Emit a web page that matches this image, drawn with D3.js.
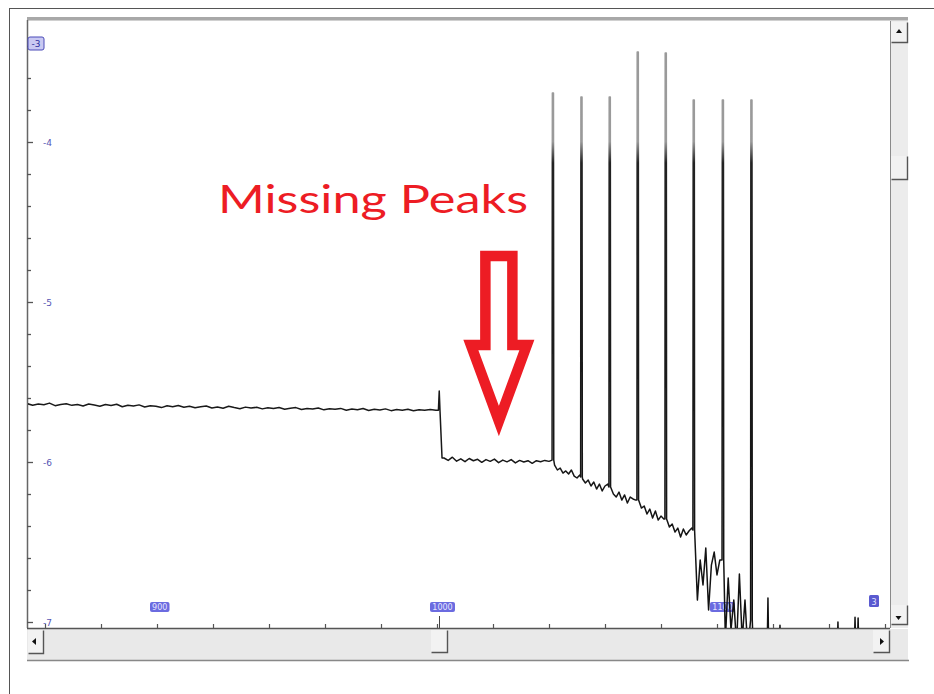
<!DOCTYPE html>
<html><head><meta charset="utf-8">
<script src="https://cdn.jsdelivr.net/npm/d3@7"></script>
<style>body{margin:0;background:#fff}svg{display:block}</style>
</head><body><div id="chart"></div>
<script>
// ---------- data ----------
const xDomain = [853.57, 1161.79];
const yDomain = [-7.0375, -3.2375];
const xTickLabels = ["900", "1000", "1100"];
const xTickLabelValues = [900, 1000, 1100];
const yTickLabels = ["-4", "-5", "-6", "-7"];
const yTickLabelValues = [-4, -5, -6, -7];

// baseline before the step (regularly sampled)
const baseStart = 853.6, baseStep = 2;
const baseLog = [-5.635,-5.645,-5.638,-5.642,-5.632,-5.648,-5.640,-5.636,-5.646,-5.641,
 -5.650,-5.638,-5.644,-5.652,-5.641,-5.647,-5.639,-5.655,-5.645,-5.650,
 -5.643,-5.656,-5.648,-5.652,-5.660,-5.649,-5.655,-5.647,-5.658,-5.652,
 -5.661,-5.655,-5.650,-5.662,-5.656,-5.664,-5.652,-5.660,-5.667,-5.657,
 -5.663,-5.658,-5.668,-5.661,-5.666,-5.659,-5.670,-5.664,-5.660,-5.672,
 -5.665,-5.669,-5.662,-5.674,-5.667,-5.671,-5.665,-5.676,-5.669,-5.673,
 -5.666,-5.678,-5.671,-5.675,-5.668,-5.679,-5.672,-5.676,-5.670,-5.680,
 -5.673,-5.677,-5.672,-5.676];
// the step near 1000
const stepPts = [[1000.5,-5.676],[1000.8,-5.556],[1001.1,-5.69],[1001.8,-5.975]];
// flat region with missing peaks
const midStart = 1002.5, midStep = 1.5;
const midLog = [-5.975,-5.990,-5.970,-5.995,-5.980,-5.998,-5.978,-5.992,-5.983,-6.002,
 -5.985,-5.996,-5.982,-6.004,-5.988,-5.999,-5.985,-6.006,-5.990,-6.000,
 -5.992,-6.008,-5.992,-5.998,-5.990,-5.996];
// descending noisy region (one sample per unit)
const highStart = 1042;
const highLog = [-6.019,-6.050,-6.038,-6.069,-6.056,-6.075,-6.050,-6.088,-6.100,-6.081,
 -6.106,-6.131,-6.113,-6.150,-6.125,-6.169,-6.138,-6.181,-6.150,-6.138,
 -6.175,-6.200,-6.219,-6.188,-6.238,-6.206,-6.256,-6.219,-6.231,-6.238,
 -6.263,-6.288,-6.275,-6.325,-6.294,-6.350,-6.306,-6.363,-6.338,-6.356,
 -6.375,-6.406,-6.388,-6.438,-6.413,-6.469,-6.419,-6.456,-6.431,-6.413,
 -6.581,-6.863,-6.613,-6.769,-6.538,-6.925,-6.644,-6.563,-6.706,-6.613,
 -6.650,-7.113,-6.725,-7.050,-6.863,-7.144,-6.700,-7.113,-6.863,-7.175];
// tail after the last peak
const tailPts = [[1113,-7.2],[1115,-7.24],[1117.9,-7.2],[1118.2,-6.85],[1118.5,-7.2],
 [1122.2,-7.2],[1122.5,-7.02],[1122.8,-7.2],[1130,-7.24],[1142.9,-7.2],[1143.2,-7.0],
 [1143.5,-7.2],[1149,-7.2],[1149.3,-6.97],[1149.6,-7.2],[1150.1,-7.2],[1150.4,-6.975],
 [1150.7,-7.2],[1161.8,-7.2]];
// peaks
const peakMz   = [1041.4, 1051.6, 1061.7, 1071.7, 1081.7, 1091.7, 1102.1, 1112.3];
const peakTop  = [-3.694, -3.719, -3.719, -3.438, -3.444, -3.738, -3.738, -3.738];
const peakBase = [-5.988, -6.094, -6.156, -6.238, -6.356, -6.425, -6.613, -6.988];

// ---------- chart ----------
const W = 934, H = 694;
const P = {left: 27, top: 20, right: 890, bottom: 628};
const svg = d3.select('#chart').append('svg').attr('width', W).attr('height', H);
const x = d3.scaleLinear().domain(xDomain).range([P.left, P.right]);
const y = d3.scaleLinear().domain(yDomain).range([P.bottom, P.top]);

// outer frame (top + left)
svg.append('line').attr('x1', 9).attr('x2', W).attr('y1', 8.5).attr('y2', 8.5).attr('stroke', '#555');
svg.append('line').attr('x1', 9.5).attr('x2', 9.5).attr('y1', 8).attr('y2', H).attr('stroke', '#555');

// plot background
svg.append('rect').attr('x', P.left).attr('y', P.top).attr('width', P.right - P.left)
  .attr('height', P.bottom - P.top).attr('fill', '#fff');
// top bevel
svg.append('rect').attr('x', P.left).attr('y', 17).attr('width', 908 - P.left).attr('height', 3).attr('fill', '#a8a8a8');
svg.append('line').attr('x1', P.left).attr('x2', 908).attr('y1', 20.5).attr('y2', 20.5).attr('stroke', '#d0d0d0');

// vertical scrollbar
const vs = svg.append('g');
vs.append('rect').attr('x', 890).attr('y', 21).attr('width', 18).attr('height', 607).attr('fill', '#ececec');
vs.append('line').attr('x1', 890.5).attr('x2', 890.5).attr('y1', 21).attr('y2', 628).attr('stroke', '#8a8a8a');
function button(g, bx, by, bw, bh, tri) {
  g.append('rect').attr('x', bx).attr('y', by).attr('width', bw).attr('height', bh).attr('fill', '#f2f2f2');
  g.append('path').attr('d', `M${bx + 0.5},${by + bh - 0.5}H${bx + bw - 0.5}V${by + 0.5}`)
    .attr('fill', 'none').attr('stroke', '#555').attr('stroke-width', 1.4);
  if (tri) g.append('path').attr('d', tri).attr('fill', '#111');
}
button(vs, 891, 22, 17, 21, 'M899,29 L902,33 L896,33 Z');
button(vs, 891, 156, 17, 24, null);
button(vs, 891, 605, 17, 20, 'M895.5,616 L901.5,616 L898.5,620 Z');

// horizontal scrollbar
const hs = svg.append('g');
hs.append('rect').attr('x', P.left).attr('y', 629).attr('width', 908 - P.left).attr('height', 31).attr('fill', '#e9e9e9');
hs.append('line').attr('x1', P.left).attr('x2', 909).attr('y1', 660.5).attr('y2', 660.5).attr('stroke', '#888').attr('stroke-width', 1.5);
button(hs, 28, 630, 16, 24, 'M32,641.5 L36,638 L36,645 Z');
button(hs, 431, 630, 17, 23, null);
button(hs, 873, 630, 17, 23, 'M884,641.5 L880,638 L880,645 Z');
hs.append('line').attr('x1', 439.5).attr('x2', 439.5).attr('y1', 616).attr('y2', 628).attr('stroke', '#444');

// axes lines
svg.append('line').attr('x1', 27.5).attr('x2', 27.5).attr('y1', P.top).attr('y2', P.bottom)
  .attr('stroke', '#666').attr('stroke-width', 1.5);
svg.append('line').attr('x1', P.left).attr('x2', 890).attr('y1', 628.5).attr('y2', 628.5)
  .attr('stroke', '#555').attr('stroke-width', 1.5);

// y ticks (minor every 0.2 decade)
const yMinor = d3.range(-35, -16).map(k => k / 5).filter(v => y(v) >= P.top + 10);
svg.append('g').selectAll('line').data(yMinor).join('line')
  .attr('x1', P.left).attr('x2', d => Number.isInteger(d) ? P.left + 6 : P.left + 4)
  .attr('y1', d => Math.round(y(d)) + 0.5).attr('y2', d => Math.round(y(d)) + 0.5)
  .attr('stroke', '#555').attr('stroke-width', 1.3);
svg.append('g').selectAll('text').data(yTickLabelValues).join('text')
  .attr('x', 43).attr('y', d => y(d) + 3.5)
  .attr('font-family', 'DejaVu Sans, sans-serif').attr('font-size', 9)
  .attr('fill', '#5656b4').text((d, i) => yTickLabels[i]);

// x ticks (every 20)
const xMinor = d3.range(860, 1161, 20);
svg.append('g').selectAll('line').data(xMinor).join('line')
  .attr('x1', d => Math.round(x(d)) + 0.5).attr('x2', d => Math.round(x(d)) + 0.5)
  .attr('y1', 624).attr('y2', 628).attr('stroke', '#555').attr('stroke-width', 1.2);
const xl = svg.append('g').selectAll('g').data(xTickLabelValues).join('g');
xl.append('rect').attr('x', d => x(d) - 7).attr('y', 602).attr('height', 10)
  .attr('width', (d, i) => xTickLabels[i].length * 5.5 + 3).attr('rx', 2).attr('fill', '#6b6be0');
xl.append('text').attr('x', (d, i) => x(d) - 7 + (xTickLabels[i].length * 5.5 + 3) / 2).attr('y', 610)
  .attr('text-anchor', 'middle').attr('font-family', 'DejaVu Sans, sans-serif').attr('font-size', 8)
  .attr('fill', '#e6e6ff').text((d, i) => xTickLabels[i]);

// corner boxes
svg.append('rect').attr('x', 28).attr('y', 37).attr('width', 16).attr('height', 13).attr('rx', 2)
  .attr('fill', '#c9c9f2').attr('stroke', '#4a4ab8');
svg.append('text').attr('x', 36).attr('y', 47).attr('text-anchor', 'middle')
  .attr('font-family', 'DejaVu Sans, sans-serif').attr('font-size', 9).attr('fill', '#2e2e9e').text('-3');
svg.append('rect').attr('x', 869).attr('y', 595).attr('width', 10).attr('height', 12).attr('rx', 1.5)
  .attr('fill', '#5a5ad0');
svg.append('text').attr('x', 874).attr('y', 604.5).attr('text-anchor', 'middle')
  .attr('font-family', 'DejaVu Sans, sans-serif').attr('font-size', 8).attr('fill', '#e6e6ff').text('3');

// ---------- trace ----------
const pts = [];
baseLog.forEach((v, i) => pts.push([baseStart + i * baseStep, v]));
stepPts.forEach(p => pts.push(p));
midLog.forEach((v, i) => pts.push([midStart + i * midStep, v]));
highLog.forEach((v, i) => {
  const m = highStart + i;
  if (!peakMz.some(p => Math.abs(p - m) < 0.35)) pts.push([m, v]);
});
tailPts.forEach(p => pts.push(p));
peakMz.forEach((m, i) => {
  pts.push([m - 0.3, peakBase[i]], [m - 0.2, peakTop[i]], [m + 0.2, peakTop[i]], [m + 0.3, peakBase[i]]);
});
pts.sort((a, b) => a[0] - b[0]);

const defs = svg.append('defs');
defs.append('clipPath').attr('id', 'clip').append('rect')
  .attr('x', P.left + 1).attr('y', P.top).attr('width', P.right - P.left - 1).attr('height', P.bottom - P.top);
const grad = defs.append('linearGradient').attr('id', 'peakgrad').attr('gradientUnits', 'userSpaceOnUse')
  .attr('x1', 0).attr('x2', 0).attr('y1', P.top).attr('y2', P.bottom);
grad.append('stop').attr('offset', 0).attr('stop-color', '#9a9a9a');
grad.append('stop').attr('offset', 0.2).attr('stop-color', '#9a9a9a');
grad.append('stop').attr('offset', 0.235).attr('stop-color', '#222');
grad.append('stop').attr('offset', 1).attr('stop-color', '#111');

svg.append('path').datum(pts).attr('clip-path', 'url(#clip)')
  .attr('d', d3.line().x(d => x(d[0])).y(d => y(d[1])))
  .attr('fill', 'none').attr('stroke', 'url(#peakgrad)').attr('stroke-width', 1.5)
  .attr('stroke-linejoin', 'round');

// ---------- annotation ----------
svg.append('text').attr('x', 218).attr('y', 213)
  .attr('font-family', 'Lato, sans-serif').attr('font-size', 39).attr('fill', '#ed1c24')
  .attr('textLength', 310).attr('lengthAdjust', 'spacingAndGlyphs').text('Missing Peaks');

const ax = x(1022.1);
const arrow = `M${ax - 13.5},256 H${ax + 13.5} V345 H${ax + 28} L${ax},421 L${ax - 28},345 H${ax - 13.5} Z`;
svg.append('path').attr('d', arrow).attr('fill', 'none').attr('stroke', '#ed1c24')
  .attr('stroke-width', 10.5).attr('stroke-linejoin', 'miter').attr('stroke-miterlimit', 6);
</script>
</body></html>
